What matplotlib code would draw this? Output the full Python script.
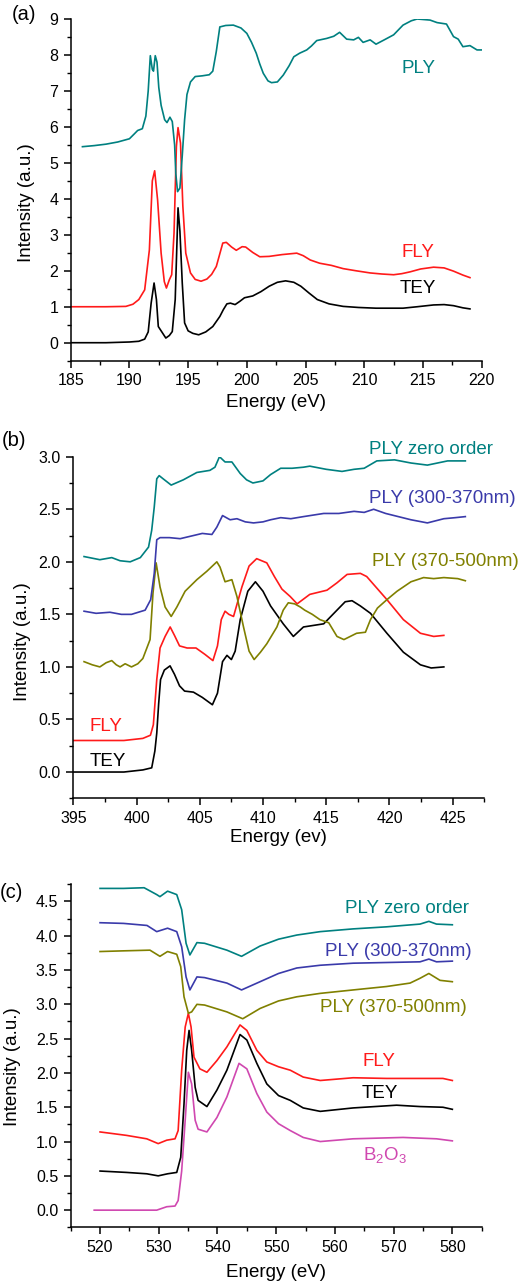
import numpy as np
import matplotlib
matplotlib.use("Agg")
import matplotlib.pyplot as plt
from matplotlib.ticker import MultipleLocator

plt.rcParams["font.family"] = ["Liberation Sans", "DejaVu Sans"]
plt.rcParams["mathtext.fontset"] = "custom"
plt.rcParams["mathtext.rm"] = "Liberation Sans"
plt.rcParams["mathtext.it"] = "Liberation Sans:italic"

TEAL, BLUE, OLIVE, RED, BLACK, PINK = "#008080", "#3A3AAA", "#808000", "#FF1A1A", "#000000", "#D048B0"

# ---- panel (a): (energy eV, intensity) ----
tey_a = np.array([
    (185, 0), (188, 0), (190, 0.02), (190.8, 0.04), (191.3, 0.1), (191.6, 0.3), (191.85, 1.1),
    (192.1, 1.66), (192.3, 1.2), (192.46, 0.45), (192.7, 0.33), (193.1, 0.13), (193.4, 0.2),
    (193.65, 0.31), (193.9, 1.2), (194.05, 2.8), (194.14, 3.75), (194.3, 3.1), (194.5, 1.66),
    (194.7, 0.55), (195.0, 0.33), (195.4, 0.26), (195.9, 0.22), (196.5, 0.3), (197.1, 0.45),
    (197.7, 0.73), (198.0, 0.92), (198.3, 1.08), (198.6, 1.1), (199.0, 1.06), (199.4, 1.15),
    (199.8, 1.25), (200.5, 1.3), (201.2, 1.42), (201.9, 1.57), (202.6, 1.68), (203.3, 1.72),
    (204.0, 1.68), (204.6, 1.57), (205.3, 1.38), (206.0, 1.2), (207.0, 1.08), (208.2, 1.01),
    (209.5, 0.98), (211.0, 0.96), (213.3, 0.96), (214.5, 1.0), (215.9, 1.05), (216.8, 1.06),
    (217.6, 1.03), (218.4, 0.97), (219.0, 0.94)])
fly_a = np.array([
    (185, 1.0), (188, 1.0), (189.7, 1.01), (190.3, 1.07), (190.8, 1.2), (191.3, 1.47),
    (191.7, 2.58), (191.95, 4.5), (192.15, 4.78), (192.4, 3.97), (192.7, 2.49), (192.97, 1.7),
    (193.15, 1.52), (193.4, 1.75), (193.6, 1.89), (193.8, 3.05), (194.0, 5.45), (194.14, 5.98),
    (194.35, 5.55), (194.55, 3.8), (194.8, 2.49), (195.2, 1.94), (195.6, 1.76), (196.1, 1.71),
    (196.6, 1.77), (197.0, 1.9), (197.4, 2.12), (197.95, 2.77), (198.25, 2.79), (198.7, 2.66),
    (199.1, 2.57), (199.6, 2.67), (199.9, 2.66), (200.5, 2.51), (201.1, 2.39), (201.9, 2.4),
    (203.0, 2.45), (204.25, 2.49), (204.8, 2.42), (205.4, 2.3), (206.2, 2.21), (207.2, 2.15),
    (208.2, 2.06), (209.3, 2.0), (210.5, 1.94), (211.5, 1.91), (212.5, 1.89), (213.2, 1.92),
    (213.9, 1.97), (214.8, 2.05), (215.9, 2.1), (216.8, 2.08), (217.6, 1.99), (218.4, 1.88),
    (219.0, 1.81)])
ply_a = np.array([
    (186, 5.45), (187, 5.48), (188, 5.52), (189, 5.58), (190, 5.67), (190.4, 5.8), (190.7, 5.9),
    (191.1, 5.95), (191.4, 6.3), (191.6, 7.0), (191.78, 7.98), (191.95, 7.6), (192.05, 7.55),
    (192.2, 7.98), (192.35, 7.8), (192.5, 7.1), (192.7, 6.6), (193.0, 6.2), (193.2, 6.12),
    (193.45, 6.27), (193.65, 6.15), (193.85, 5.5), (193.95, 4.7), (194.1, 4.2), (194.3, 4.3),
    (194.5, 5.2), (194.7, 6.2), (194.9, 6.9), (195.2, 7.25), (195.6, 7.4), (196.2, 7.42),
    (196.8, 7.45), (197.1, 7.55), (197.4, 8.1), (197.7, 8.78), (198.2, 8.82), (198.85, 8.83),
    (199.5, 8.75), (200.0, 8.6), (200.4, 8.35), (200.8, 8.05), (201.1, 7.75), (201.4, 7.49),
    (201.8, 7.28), (202.1, 7.23), (202.6, 7.25), (203.1, 7.44), (203.6, 7.7), (204.0, 7.95),
    (204.5, 8.05), (205.1, 8.14), (205.5, 8.25), (205.95, 8.4), (206.8, 8.46), (207.4, 8.52),
    (207.9, 8.63), (208.5, 8.44), (209.1, 8.42), (209.5, 8.49), (209.9, 8.35), (210.5, 8.42),
    (211.0, 8.3), (211.7, 8.42), (212.5, 8.56), (213.3, 8.83), (214.0, 8.95), (214.5, 9.0),
    (215.6, 8.97), (216.2, 8.9), (217.0, 8.86), (217.6, 8.51), (218.0, 8.44), (218.4, 8.23),
    (219.0, 8.26), (219.6, 8.14), (220.0, 8.14)])

# ---- panel (b) ----
tey_b = np.array([
    (395, 0.0), (399, 0.0), (400.5, 0.02), (401.2, 0.04), (401.45, 0.2), (401.6, 0.37),
    (401.75, 0.65), (401.9, 0.88), (402.2, 0.97), (402.65, 1.01), (403.0, 0.93), (403.4, 0.82),
    (403.8, 0.77), (404.5, 0.76), (405.2, 0.71), (406.0, 0.64), (406.4, 0.75), (406.8, 1.05),
    (407.15, 1.11), (407.5, 1.07), (407.8, 1.15), (408.2, 1.45), (408.8, 1.72), (409.4, 1.81),
    (410.0, 1.72), (410.6, 1.58), (411.6, 1.41), (412.4, 1.29), (413.2, 1.38), (414.8, 1.41),
    (415.85, 1.54), (416.5, 1.62), (417.04, 1.63), (417.7, 1.58), (418.5, 1.51), (419.8, 1.32),
    (421.1, 1.14), (422.45, 1.02), (423.3, 0.99), (424.3, 1.0)])
fly_b = np.array([
    (395, 0.3), (399, 0.3), (400.5, 0.32), (401.1, 0.35), (401.33, 0.45), (401.6, 0.88),
    (401.86, 1.18), (402.26, 1.29), (402.66, 1.38), (403.0, 1.3), (403.4, 1.2), (404.0, 1.18),
    (404.7, 1.18), (405.4, 1.12), (406.04, 1.06), (406.4, 1.2), (406.7, 1.45), (407.0, 1.53),
    (407.3, 1.5), (407.67, 1.48), (408.33, 1.76), (408.9, 1.96), (409.5, 2.03), (410.3, 1.99),
    (410.9, 1.86), (411.5, 1.74), (412.15, 1.67), (412.7, 1.6), (413.7, 1.69), (415.06, 1.73),
    (415.85, 1.8), (416.65, 1.88), (417.7, 1.89), (418.2, 1.86), (419.8, 1.64), (421.1, 1.45),
    (422.45, 1.32), (423.5, 1.29), (424.3, 1.3)])
ply_visb_b = np.array([
    (395.85, 1.05), (396.5, 1.02), (397.1, 1.0), (397.6, 1.04), (398.04, 1.06), (398.4, 1.02),
    (398.7, 1.0), (399.1, 1.03), (399.6, 1.0), (400.1, 1.03), (400.5, 1.08), (401.07, 1.26),
    (401.3, 1.7), (401.55, 1.99), (401.86, 1.76), (402.26, 1.57), (402.74, 1.48), (403.19, 1.57),
    (403.84, 1.72), (404.77, 1.83), (405.56, 1.91), (406.35, 2.0), (406.6, 1.95), (407.0, 1.81),
    (407.54, 1.83), (407.94, 1.67), (408.46, 1.38), (408.9, 1.15), (409.3, 1.07), (409.8, 1.14),
    (410.3, 1.22), (411.1, 1.38), (411.6, 1.54), (412.0, 1.61), (412.5, 1.6), (412.95, 1.57),
    (413.3, 1.54), (413.9, 1.5), (414.5, 1.45), (415.2, 1.42), (415.85, 1.29), (416.4, 1.26),
    (417.4, 1.32), (418.1, 1.33), (418.5, 1.45), (419.05, 1.56), (419.8, 1.64), (420.6, 1.72),
    (421.7, 1.81), (422.7, 1.85), (423.5, 1.84), (424.3, 1.85), (425.4, 1.84), (426.0, 1.82)])
ply_uv_b = np.array([
    (395.85, 1.53), (396.8, 1.51), (397.9, 1.52), (398.8, 1.5), (399.6, 1.5), (400.68, 1.54),
    (401.12, 1.64), (401.4, 1.89), (401.6, 2.21), (401.86, 2.23), (402.6, 2.23), (403.45, 2.22),
    (404.5, 2.25), (405.2, 2.27), (405.96, 2.26), (406.35, 2.33), (406.8, 2.44), (407.4, 2.4),
    (407.94, 2.41), (408.6, 2.38), (409.25, 2.37), (410.0, 2.38), (410.6, 2.4), (411.4, 2.42),
    (412.2, 2.41), (413.2, 2.43), (414.8, 2.46), (416.0, 2.46), (417.2, 2.48), (418.0, 2.47),
    (418.75, 2.5), (419.7, 2.46), (420.7, 2.43), (421.7, 2.4), (423.0, 2.37), (424.3, 2.41),
    (425.2, 2.42), (426.0, 2.43)])
ply_zero_b = np.array([
    (395.85, 2.05), (397.1, 2.02), (398.04, 2.04), (398.7, 2.01), (399.5, 2.0), (400.3, 2.04),
    (400.95, 2.14), (401.2, 2.3), (401.4, 2.52), (401.6, 2.79), (401.79, 2.82), (402.1, 2.79),
    (402.74, 2.73), (403.7, 2.78), (404.77, 2.85), (405.8, 2.87), (406.2, 2.9), (406.56, 3.0),
    (407.0, 2.95), (407.54, 2.95), (408.2, 2.84), (408.7, 2.78), (409.2, 2.75), (410.0, 2.77),
    (410.6, 2.83), (411.4, 2.89), (412.3, 2.89), (413.2, 2.9), (413.7, 2.91), (415.0, 2.88),
    (416.25, 2.86), (417.2, 2.88), (418.0, 2.89), (419.0, 2.96), (420.4, 2.97), (421.7, 2.94),
    (423.0, 2.92), (424.6, 2.96), (426.0, 2.96)])

# ---- panel (c) ----
b2o3_c = np.array([
    (519.0, 0.0), (529.65, 0.0), (531.36, 0.05), (532.77, 0.06), (533.3, 0.14), (533.9, 0.57),
    (534.5, 1.31), (535.04, 2.01), (535.6, 1.84), (536.2, 1.31), (536.7, 1.18), (538.2, 1.14),
    (539.9, 1.35), (541.6, 1.65), (543.67, 2.14), (545.0, 2.06), (546.7, 1.7), (548.4, 1.43),
    (550.4, 1.26), (552.4, 1.16), (554.6, 1.06), (557.5, 1.0), (563.1, 1.04), (571.6, 1.06),
    (577.3, 1.04), (580.0, 1.01)])
tey_c = np.array([
    (520.0, 0.57), (524.5, 0.55), (527.95, 0.53), (529.9, 0.5), (531.5, 0.53), (533.06, 0.55),
    (533.74, 0.77), (534.3, 1.55), (534.76, 2.33), (535.16, 2.62), (535.6, 2.33), (536.2, 1.79),
    (536.7, 1.6), (538.2, 1.51), (539.9, 1.75), (541.6, 2.04), (543.84, 2.56), (545.0, 2.48),
    (546.7, 2.14), (548.4, 1.84), (550.4, 1.67), (552.4, 1.6), (554.6, 1.49), (557.5, 1.44),
    (563.1, 1.49), (570.5, 1.53), (574.5, 1.51), (578.4, 1.5), (580.0, 1.47)])
fly_c = np.array([
    (520.0, 1.14), (524.5, 1.09), (527.95, 1.04), (529.9, 0.97), (531.36, 1.02), (532.77, 1.04),
    (533.3, 1.16), (533.9, 2.04), (534.5, 2.67), (535.04, 2.87), (535.5, 2.67), (536.0, 2.23),
    (537.0, 2.06), (538.2, 2.01), (539.9, 2.18), (541.6, 2.38), (543.84, 2.7), (545.0, 2.62),
    (546.7, 2.33), (548.4, 2.16), (550.4, 2.09), (552.4, 2.04), (554.6, 1.94), (557.5, 1.89),
    (563.1, 1.93), (568.8, 1.92), (574.5, 1.92), (578.4, 1.92), (580.0, 1.89)])
ply_visb_c = np.array([
    (520.0, 3.77), (524.0, 3.78), (528.5, 3.79), (530.2, 3.7), (531.5, 3.77), (533.06, 3.73),
    (533.74, 3.55), (534.3, 3.11), (535.04, 2.87), (535.6, 2.89), (536.5, 3.0), (537.8, 2.99),
    (541.6, 2.89), (544.3, 2.79), (547.25, 2.94), (550.4, 3.05), (553.5, 3.11), (557.5, 3.16),
    (563.1, 3.21), (568.8, 3.26), (572.8, 3.31), (574.5, 3.38), (576.0, 3.45), (577.9, 3.35),
    (580.0, 3.33)])
ply_uv_c = np.array([
    (520.0, 4.19), (524.0, 4.18), (528.0, 4.15), (529.65, 4.06), (531.5, 4.11), (533.06, 4.06),
    (533.9, 3.84), (534.65, 3.4), (535.3, 3.21), (536.5, 3.4), (537.8, 3.39), (541.6, 3.31),
    (544.1, 3.21), (547.25, 3.33), (550.4, 3.45), (553.5, 3.53), (557.5, 3.57), (563.1, 3.6),
    (568.8, 3.61), (574.5, 3.62), (576.0, 3.66), (577.3, 3.62), (580.0, 3.63)])
ply_zero_c = np.array([
    (520.0, 4.69), (524.0, 4.69), (527.5, 4.7), (529.65, 4.6), (530.2, 4.57), (531.5, 4.65),
    (533.06, 4.6), (533.9, 4.38), (534.65, 3.89), (535.3, 3.72), (536.5, 3.9), (537.8, 3.89),
    (541.6, 3.79), (544.1, 3.7), (547.25, 3.85), (550.4, 3.95), (553.5, 4.01), (557.5, 4.06),
    (563.1, 4.1), (568.8, 4.13), (574.5, 4.17), (576.0, 4.21), (577.3, 4.17), (580.0, 4.16)])

W, H = 527, 1284
fig = plt.figure(figsize=(W / 100, H / 100), dpi=100)


def px_axes(left, top, right, bottom):
    return fig.add_axes([left / W, 1 - bottom / H, (right - left) / W, (bottom - top) / H])


def style(ax, xlim, ylim, xmaj, xmin, ymaj, ymin, xlabel, ylab_xy, xlab_y):
    ax.set_xlim(*xlim)
    ax.set_ylim(*ylim)
    ax.xaxis.set_major_locator(MultipleLocator(xmaj))
    ax.xaxis.set_minor_locator(MultipleLocator(xmin))
    ax.yaxis.set_major_locator(MultipleLocator(ymaj))
    ax.yaxis.set_minor_locator(MultipleLocator(ymin))
    for s in ("top", "right"):
        ax.spines[s].set_visible(False)
    for s in ("left", "bottom"):
        ax.spines[s].set_linewidth(1.1)
    ax.tick_params(which="major", direction="out", length=5, width=1.1, labelsize=11.5, pad=4)
    ax.tick_params(which="minor", direction="out", length=3, width=1.0)
    ax.set_xlabel(xlabel, fontsize=13.5)
    ax.set_ylabel("Intensity (a.u.)", fontsize=13.5)
    ax.yaxis.set_label_coords(*ylab_xy)
    ax.xaxis.set_label_coords(0.5, xlab_y)


lw = 1.2

# (a)
ax = px_axes(70.7, 19, 481.7, 360.7)
ax.plot(tey_a[:, 0], tey_a[:, 1], color=BLACK, lw=lw)
ax.plot(fly_a[:, 0], fly_a[:, 1], color=RED, lw=lw)
ax.plot(ply_a[:, 0], ply_a[:, 1], color=TEAL, lw=lw)
style(ax, (185, 220), (-0.5, 9), 5, 2.5, 1, 0.5, "Energy (eV)", (-0.086, 0.463), -0.097)
ax.text(213.2, 7.62, "PLY", color=TEAL, fontsize=13.5, va="center")
ax.text(213.2, 2.52, "FLY", color=RED, fontsize=13.5, va="center")
ax.text(213.0, 1.52, "TEY", color=BLACK, fontsize=13.5, va="center")
fig.text(12 / W, 1 - 15 / H, "(a)", fontsize=14.5, va="center")

# (b)
ax = px_axes(73.3, 456.7, 484.3, 798.3)
ax.plot(tey_b[:, 0], tey_b[:, 1], color=BLACK, lw=lw)
ax.plot(fly_b[:, 0], fly_b[:, 1], color=RED, lw=lw)
ax.plot(ply_visb_b[:, 0], ply_visb_b[:, 1], color=OLIVE, lw=lw)
ax.plot(ply_uv_b[:, 0], ply_uv_b[:, 1], color=BLUE, lw=lw)
ax.plot(ply_zero_b[:, 0], ply_zero_b[:, 1], color=TEAL, lw=lw)
style(ax, (395, 427.5), (-0.25, 3.0), 5, 2.5, 0.5, 0.25, "Energy (ev)", (-0.104, 0.458), -0.090)
ax.text(418.36, 3.07, "PLY zero order", color=TEAL, fontsize=13.5, va="center")
ax.text(418.36, 2.60, "PLY (300-370nm)", color=BLUE, fontsize=13.5, va="center")
ax.text(418.6, 2.00, "PLY (370-500nm)", color=OLIVE, fontsize=13.5, va="center")
ax.text(396.3, 0.43, "FLY", color=RED, fontsize=13.5, va="center")
ax.text(396.3, 0.10, "TEY", color=BLACK, fontsize=13.5, va="center")
fig.text(2 / W, 1 - 440.7 / H, "(b)", fontsize=14.5, va="center")

# (c)
ax = px_axes(70.7, 884.3, 481.7, 1227.3)
ax.plot(b2o3_c[:, 0], b2o3_c[:, 1], color=PINK, lw=lw)
ax.plot(tey_c[:, 0], tey_c[:, 1], color=BLACK, lw=lw)
ax.plot(fly_c[:, 0], fly_c[:, 1], color=RED, lw=lw)
ax.plot(ply_visb_c[:, 0], ply_visb_c[:, 1], color=OLIVE, lw=lw)
ax.plot(ply_uv_c[:, 0], ply_uv_c[:, 1], color=BLUE, lw=lw)
ax.plot(ply_zero_c[:, 0], ply_zero_c[:, 1], color=TEAL, lw=lw)
style(ax, (515, 585), (-0.25, 4.75), 10, 5, 0.5, 0.25, "Energy (eV)", (-0.122, 0.468), -0.107)
ax.text(561.7, 4.39, "PLY zero order", color=TEAL, fontsize=13.5, va="center")
ax.text(558.3, 3.77, "PLY (300-370nm)", color=BLUE, fontsize=13.5, va="center")
ax.text(557.5, 2.95, "PLY (370-500nm)", color=OLIVE, fontsize=13.5, va="center")
ax.text(564.7, 2.17, "FLY", color=RED, fontsize=13.5, va="center")
ax.text(564.55, 1.70, "TEY", color=BLACK, fontsize=13.5, va="center")
ax.text(564.7, 0.80, "B$_2$O$_3$", color=PINK, fontsize=13.5, va="center")
fig.text(0 / W, 1 - 893 / H, "(c)", fontsize=14.5, va="center")

fig.savefig("out.png", dpi=100)
